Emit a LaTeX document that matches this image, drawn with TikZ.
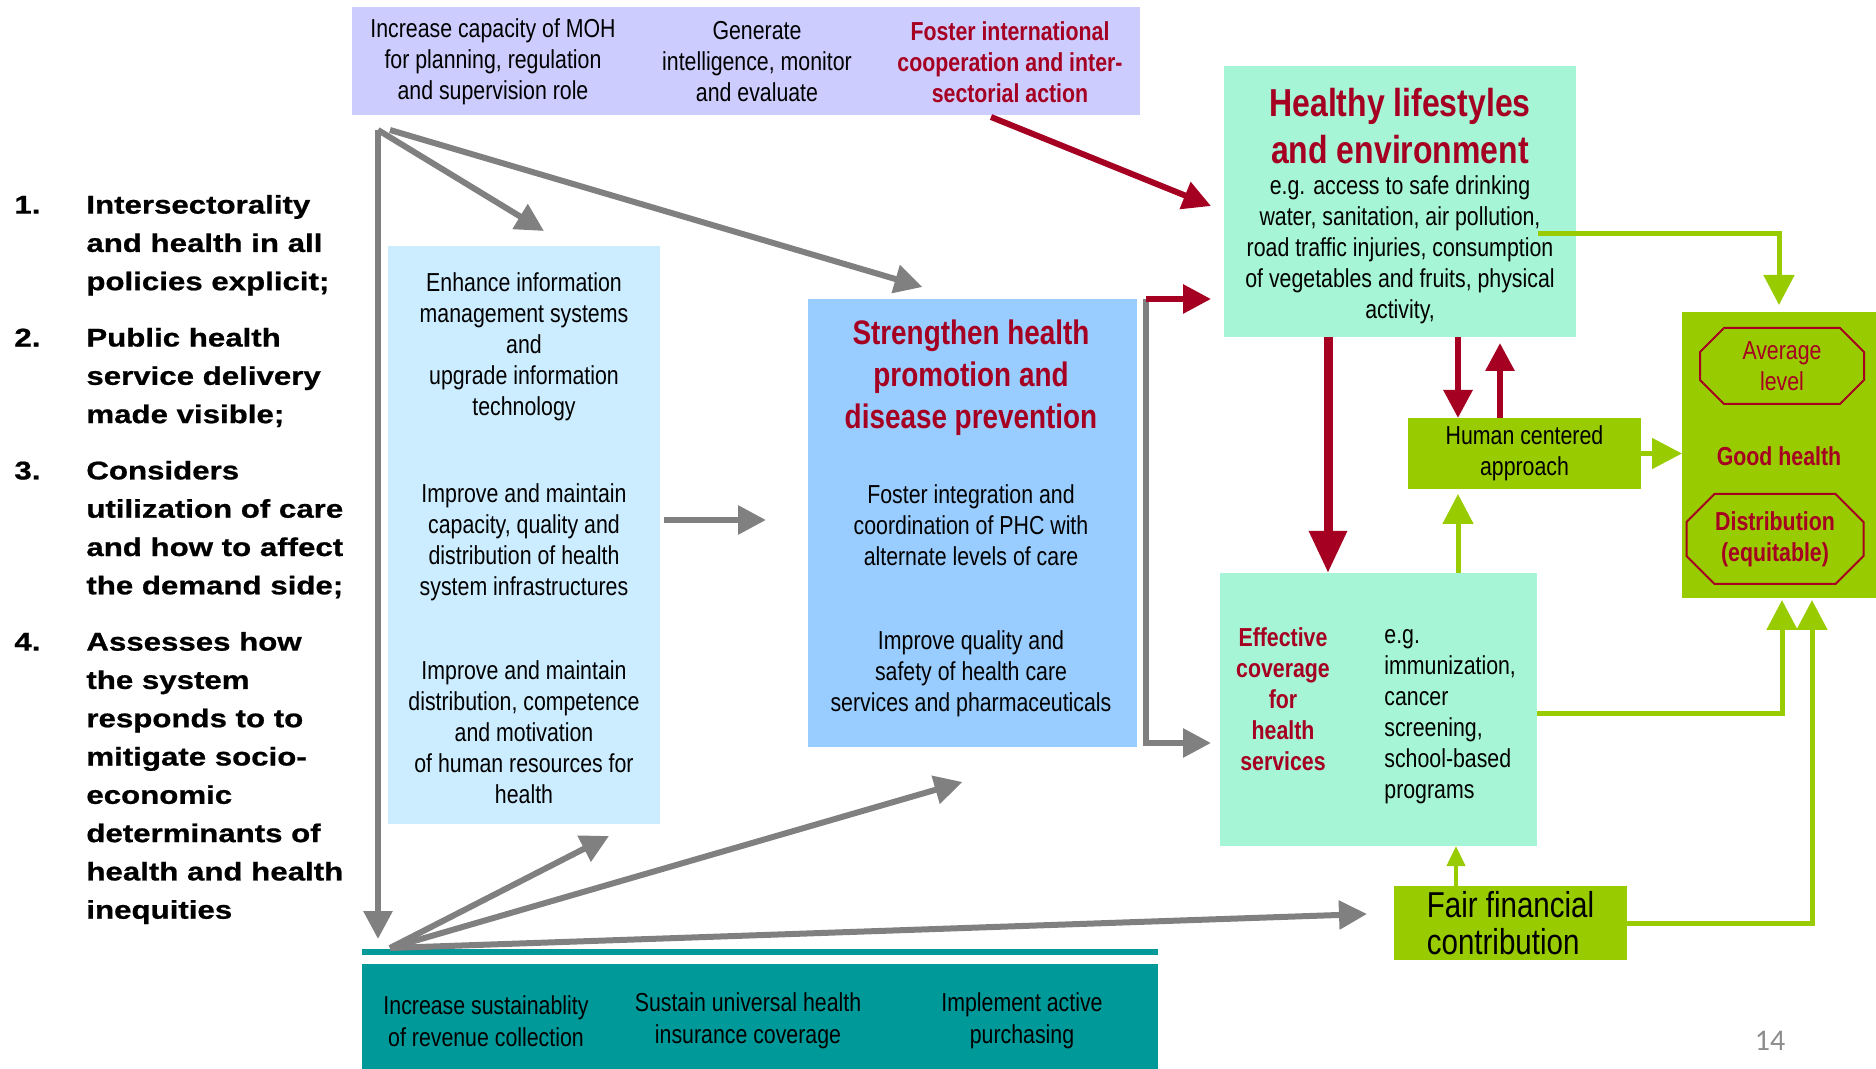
\documentclass[tikz,border=0pt]{standalone}
\usepackage{fontspec}
\setmainfont{Liberation Sans}[FakeStretch=0.82]
\newfontfamily\listfont{Liberation Sans}[FakeStretch=1.22, FakeBold=0.8]
\newfontfamily\pagefont{Carlito}
\usetikzlibrary{arrows.meta}
\usetikzlibrary{shapes.misc}

\definecolor{lilac}{HTML}{CCCCFF}
\definecolor{paleblue}{HTML}{CCECFF}
\definecolor{skyblue}{HTML}{99CCFF}
\definecolor{mint}{HTML}{A6F5D6}
\definecolor{lime}{HTML}{99CC00}
\definecolor{tealband}{HTML}{009999}
\definecolor{wine}{HTML}{A50021}
\definecolor{arrowgray}{HTML}{808080}

\begin{document}
\begin{tikzpicture}[x=0.5pt, y=-0.5pt,
  panel/.style={anchor=north west, inner sep=0pt, outer sep=0pt, align=center},
  flow/.style={draw=arrowgray, line width=3pt, >={Triangle[length=14pt,width=14pt]}},
  redflow/.style={draw=wine, line width=3pt, >={Triangle[length=14pt,width=14pt]}},
  bigred/.style={draw=wine, line width=4.5pt, >={Triangle[length=21pt,width=18pt]}},
  greenflow/.style={draw=lime, line width=2.5pt, >={Triangle[length=15pt,width=15pt]}}]
\tikzstyle{txt}=[inner sep=0pt, align=center, font=\fontsize{13}{15.5}\selectfont]
\tikzstyle{redtxt}=[txt, text=wine, font=\fontsize{13}{15.5}\selectfont\bfseries]
\tikzstyle{octa}=[chamfered rectangle, draw=wine, line width=1pt, inner sep=0pt, align=center,
  chamfered rectangle xsep=6pt, chamfered rectangle ysep=6pt]

\useasboundingbox (0,0) rectangle (1876,1069);

% boxes
\node (strat) [panel, fill=lilac, minimum width=394pt, minimum height=54pt] at (352,7) {};
\node (infra) [panel, fill=paleblue, minimum width=136pt, minimum height=289pt] at (388,246) {};
\node (promo) [panel, fill=skyblue, minimum width=164.5pt, minimum height=224pt] at (808,299) {};
\node (life) [panel, fill=mint, minimum width=176pt, minimum height=135.5pt] at (1224,66) {};
\node (human) [panel, fill=lime, minimum width=116.5pt, minimum height=35.5pt,
  font=\fontsize{13}{15.5}\selectfont] at (1408,418) {Human centered\\approach};
\node (good) [panel, fill=lime, minimum width=97pt, minimum height=143pt] at (1682,312) {};
\node (cover) [panel, fill=mint, minimum width=158.5pt, minimum height=136.5pt] at (1220,573) {};
\node (fair) [panel, fill=lime, minimum width=116.5pt, minimum height=37pt, align=left,
  font=\fontsize{18}{18.5}\selectfont] at (1394,886) {Fair financial\\contribution};
\node (finline) [panel, fill=tealband, minimum width=398pt, minimum height=3pt] at (362,949) {};
\node (fin) [panel, fill=tealband, minimum width=398pt, minimum height=52.5pt] at (362,964) {};

% left list
\node (aims) [anchor=west, inner sep=0pt, font=\listfont\bfseries\fontsize{12.8}{19.15}\selectfont] at (14,558.5) {%
\begin{tabular}{@{}p{36pt}@{}l@{}}
1. & Intersectorality\\ & and health in all\\ & policies explicit;\\[9pt]
2. & Public health\\ & service delivery\\ & made visible;\\[9pt]
3. & Considers\\ & utilization of care\\ & and how to affect\\ & the demand side;\\[9pt]
4. & Assesses how\\ & the system\\ & responds to to\\ & mitigate socio-\\ & economic\\ & determinants of\\ & health and health\\ & inequities
\end{tabular}};

% top band
\node (stratA) [txt] at (493,62) {Increase capacity of MOH\\for planning, regulation\\and supervision role};
\node (stratB) [txt] at (757,62) {Generate\\intelligence, monitor\\and evaluate};
\node (stratC) [redtxt] at (1010,62) {Foster international\\cooperation and inter-\\sectorial action};

% infrastructure box
\node (infraA) [txt] at (524,347) {Enhance information\\management systems\\and\\upgrade information\\technology};
\node (infraB) [txt] at (524,542.5) {Improve and maintain\\capacity, quality and\\distribution of health\\system infrastructures};
\node (infraC) [txt] at (524,732) {Improve and maintain\\distribution, competence\\and motivation\\of human resources for\\health};

% promotion box
\node (promoT) [txt, text=wine, font=\fontsize{17}{21}\selectfont\bfseries] at (971,377.5) {Strengthen health\\promotion and\\disease prevention};
\node (promoB) [txt] at (971,525) {Foster integration and\\coordination of PHC with\\alternate levels of care};
\node (promoC) [txt] at (971,674) {Improve quality and\\safety of health care\\services and pharmaceuticals};

% lifestyles box
\node (lifeT) [txt, text=wine, font=\fontsize{19.5}{23.5}\selectfont\bfseries] at (1400,126.5) {Healthy lifestyles\\and environment};
\node (lifeB) [txt] at (1400,250) {e.g. access to safe drinking\\water, sanitation, air pollution,\\road traffic injuries, consumption\\of vegetables and fruits, physical\\activity,};

% coverage box
\node (coverT) [redtxt] at (1283,699) {Effective\\coverage\\for\\health\\services};
\node (coverB) [txt, anchor=west, align=left] at (1384,716.5) {e.g.\\immunization,\\cancer\\screening,\\school-based\\programs};

% good health
\node (avg) [octa, minimum width=82pt, minimum height=38pt, text=wine,
  font=\fontsize{13}{15.5}\selectfont] at (1782,366) {Average\\level};
\node (goodT) [redtxt] at (1779,456) {Good health};
\node (dist) [octa, minimum width=88.5pt, minimum height=45pt, text=wine,
  chamfered rectangle xsep=7pt, chamfered rectangle ysep=7pt,
  font=\fontsize{13}{15.5}\selectfont\bfseries] at (1775,539) {Distribution\\(equitable)};

% finance band
\node (finA) [txt, font=\fontsize{13}{16}\selectfont] at (486,1021) {Increase sustainablity\\of revenue collection};
\node (finB) [txt, font=\fontsize{13}{16}\selectfont] at (748,1021) {Sustain universal health\\insurance coverage};
\node (finC) [txt, font=\fontsize{13}{16}\selectfont] at (1022,1021) {Implement active\\purchasing};

\node (page) [inner sep=0pt, text=arrowgray!90, font=\pagefont\fontsize{15}{18}\selectfont] at (1770,1041) {14};

\coordinate (topfork) at (378,130);
\coordinate (topfork2) at (390,130);
\coordinate (botfork) at (390,948);

% gray arrows
\draw [flow, ->, shorten >=5pt] (topfork) -- (topfork |- finline.north);
\draw [flow, ->] (topfork) -- ([xshift=10pt,yshift=7.5pt]infra.north);
\draw [flow, ->] (topfork2) -- ([xshift=-25pt,yshift=6pt]promo.north);
\draw [flow, ->] ([xshift=2pt,yshift=7.5pt]infra.east) -- ([xshift=-21pt,yshift=7.5pt]infra.east -| promo.west);
\draw [flow, ->] (botfork) -- ([xshift=42.5pt,yshift=-6pt]infra.south);
\draw [flow, ->] (botfork) -- ([xshift=-5pt,yshift=-17.5pt]promo.south);
\draw [flow, ->] (botfork) -- ([xshift=-13.5pt,yshift=4.5pt]fair.west);
\draw [flow, ->, shorten >=4.5pt] ([xshift=4.5pt]promo.north east) |- ([yshift=2pt]promo.south east -| cover.west);

% red arrows
\draw [redflow, ->] ([xshift=-74.5pt,yshift=-1pt]strat.south east) -- ([xshift=-6.5pt,yshift=-2.25pt]life.west);
\draw [redflow, ->, shorten >=6.5pt] ([xshift=4.5pt]promo.north east) -- (promo.north east -| life.west);
\draw [bigred, ->] ([xshift=52pt]life.south west) -- ([xshift=52pt]life.south west |- cover.north);
\draw [redflow, ->] ([xshift=25pt]human.north west |- life.south) -- ([xshift=25pt]human.north west);
\draw [redflow, ->, shorten >=3pt] ([xshift=46pt]human.north west) -- ([xshift=46pt]human.north west |- life.south);

% green arrows
\draw [greenflow, ->, shorten >=3.5pt] ([xshift=-19pt,yshift=-16pt]life.east) -| (good.north);
\draw [greenflow, ->] (human.east) -- (human.east -| good.west);
\draw [greenflow, ->, shorten >=2.5pt] ([xshift=119pt]cover.north west) -- ([xshift=119pt]cover.north west |- human.south);
\draw [greenflow, ->, shorten >=1pt] ([yshift=-2pt]cover.east) -| ([xshift=1.5pt]good.south);
\draw [greenflow, ->, shorten >=1pt] (fair.east) -| ([xshift=16.5pt]good.south);
\draw [greenflow, line width=2pt, >={Triangle[length=10pt,width=9pt]}, ->] ([xshift=31pt]fair.north west) -- ([xshift=31pt]fair.north west |- cover.south);
\end{tikzpicture}
\end{document}
